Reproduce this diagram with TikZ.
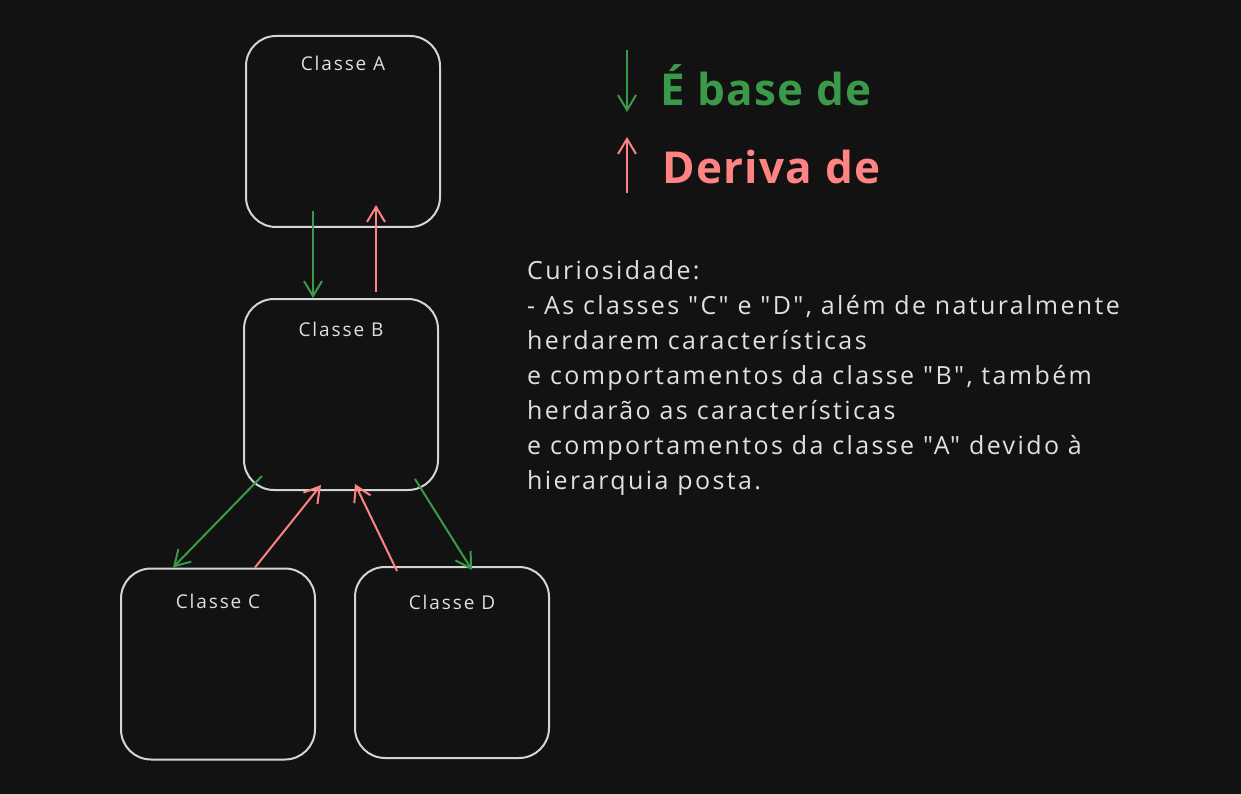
\documentclass[tikz,border=0pt]{standalone}
\usepackage{fontspec}
\setmainfont{Open Sans}[Ligatures=TeXOff]
\usetikzlibrary{arrows.meta, positioning}
\definecolor{bgdark}{HTML}{121212}
\definecolor{boxline}{HTML}{D4D4D4}
\definecolor{basegreen}{HTML}{3A9A4A}
\definecolor{derivred}{HTML}{FF8383}
\definecolor{txtlight}{HTML}{E0E0E0}

\begin{document}
\begin{tikzpicture}[
  x=1pt, y=-1pt,
  classbox/.style={rectangle, draw=boxline, line width=2pt, rounded corners=30pt,
                   minimum width=194pt, minimum height=191pt},
  boxtitle/.style={text=txtlight, inner sep=0pt,
                   font=\fontsize{19}{22}\selectfont\addfontfeature{LetterSpace=10}},
  base/.style={draw=basegreen, line width=2pt, -{Straight Barb[length=15pt, width=18pt]}},
  deriv/.style={draw=derivred, line width=2pt, -{Straight Barb[length=15pt, width=18pt]}},
  legend/.style={anchor=west, inner sep=0pt,
                 font=\fontsize{44}{48}\selectfont\bfseries\addfontfeature{LetterSpace=3}},
  note/.style={anchor=north west, inner sep=0pt, align=left, text=txtlight,
               font=\fontsize{25}{35}\selectfont\addfontfeature{LetterSpace=9.5}}
]
\fill[bgdark] (0,0) rectangle (1241,794);
\useasboundingbox (0,0) rectangle (1241,794);

% classes
\node[classbox, label={[boxtitle, anchor=north, yshift=-21pt]north:Classe A}] (clA) at (343,131.5) {};
\node[classbox, label={[boxtitle, anchor=north, yshift=-24pt]north:Classe B}] (clB) at (341,394.5) {};
\node[classbox, label={[boxtitle, anchor=north, yshift=-26pt]north:Classe C}] (clC) at (218,664) {};
\node[classbox, label={[boxtitle, anchor=north, yshift=-29pt]north:Classe D}] (clD) at (452,662.5) {};

% A -- B
\draw[base] ([xshift=-30pt, yshift=17pt]clA.south) -- ([xshift=-28pt]clB.north);
\draw[deriv] ([xshift=35pt, yshift=6pt]clB.north) -- ([xshift=33pt, yshift=23pt]clA.south);

% B -- C, D
\draw[base] ([xshift=-79pt, yshift=15pt]clB.south) -- ([xshift=-45pt]clC.north);
\draw[deriv] ([xshift=37pt]clC.north) -- ([xshift=-20pt, yshift=6pt]clB.south);
\draw[deriv] ([xshift=-55pt, yshift=-5pt]clD.north) -- ([xshift=14pt, yshift=7pt]clB.south);
\draw[base] ([xshift=74pt, yshift=12pt]clB.south) -- ([xshift=20pt, yshift=-4pt]clD.north);

% legend
\coordinate (baseTop) at (627,50);
\coordinate (baseBot) at (627,112);
\coordinate (derivBot) at (627,193);
\coordinate (derivTop) at (627,137);
\draw[base] (baseTop) -- (baseBot);
\draw[deriv] (derivBot) -- (derivTop);
\node[legend, text=basegreen] (lgBase) at (660,85) {É base de};
\node[legend, text=derivred] (lgDeriv) at (662,167) {Deriva de};

% note
\node[note] (curio) at (527,260) {Curiosidade:\\
- As classes "C" e "D", além de naturalmente\\
herdarem características\\
e comportamentos da classe "B", também\\
herdarão as características\\
e comportamentos da classe "A" devido à\\
hierarquia posta.};
\end{tikzpicture}
\end{document}
